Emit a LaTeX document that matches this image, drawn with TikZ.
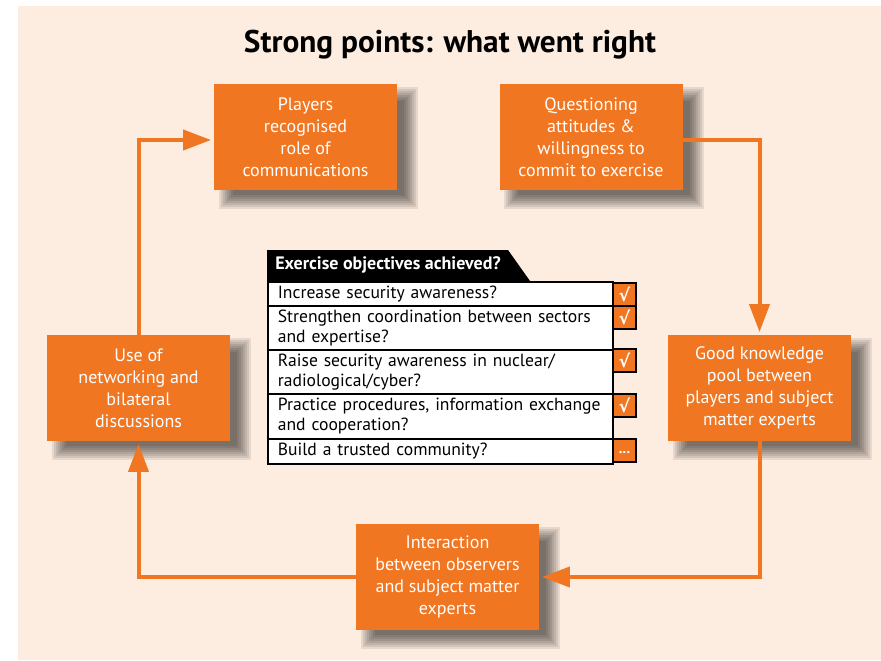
\documentclass[tikz,border=0pt]{standalone}
\usepackage{fontspec}
\setmainfont{PT Sans}
\newfontfamily\symfont{DejaVu Sans}
\usetikzlibrary{arrows.meta,backgrounds}
\definecolor{orng}{RGB}{240,118,34}
\definecolor{peach}{RGB}{253,236,224}
\begin{document}
\begin{tikzpicture}[x=0.75pt,y=-0.75pt,
  obox/.style={fill=orng,text=white,align=center,minimum width=137.25pt,minimum height=79.5pt,inner sep=0pt,
    font=\fontsize{13.5}{16.5}\selectfont},
  arr/.style={draw=orng,line width=3pt,-{Triangle[length=21pt,width=15pt]},shorten >=2pt},
  rowbox/.style={draw=black,fill=white,line width=1.5pt,anchor=north west,minimum width=258.75pt,
    text width=244pt,inner xsep=6.75pt,inner ysep=0pt,align=left,font=\fontsize{13.2}{15}\selectfont},
  chk/.style={draw=black,fill=orng,line width=1.5pt,minimum size=17.25pt,inner sep=0pt,text=white,
    anchor=north west,font=\symfont\bfseries\fontsize{13}{13}\selectfont},
  shadowlayer/.style={fill=black,opacity=0.085}]
\useasboundingbox (0,0) rectangle (881,660);

\node (title) at (450,45) {\fontsize{23.5}{23.5}\selectfont\bfseries Strong points: what went right};

\node[obox] (players) at (305.5,137) {Players\\recognised\\role of\\communications};
\node[obox] (quest) at (591,137) {Questioning\\attitudes \&\\willingness to\\commit to exercise};
\node[obox] (use) at (138.5,388) {Use of\\networking and\\bilateral\\discussions};
\node[obox] (good) at (759.5,388) {Good knowledge\\pool between\\players and subject\\matter experts};
\node[obox] (inter) at (447.5,577) {Interaction\\between observers\\and subject matter\\experts};

\begin{scope}[on background layer]
\fill[white] (0,0) rectangle (881,660);
\fill[peach] (18,6) rectangle (881,660);
\foreach \n in {players,quest,use,good,inter}{
  \foreach \e in {-6,-4,-2,0,2,4,6,8}{
    \fill[shadowlayer] ([shift={(13-\e,11+\e)}]\n.south west) rectangle ([shift={(13+\e,11-\e)}]\n.north east);
  }
}
\end{scope}

\draw[arr] (use.north) |- ([yshift=-2.25pt]players.west);
\draw[arr] ([yshift=-2.25pt]quest.east) -| (good.north);
\draw[arr] (good.south) |- (inter.east);
\draw[arr] (inter.west) -| (use.south);

% table
\fill[black] (267,250) -- (508,250) -- (530,281) -- (267,281) -- cycle;
\node[anchor=west,text=white,inner sep=0pt,font=\fontsize{13.5}{13.5}\selectfont\bfseries] (head) at (275,265) {Exercise objectives achieved?};

\node[rowbox,minimum height=18pt] (r1) at (267,281) {Increase security awareness?};
\node[rowbox,minimum height=33pt] (r2) at (267,305) {Strengthen coordination between sectors\\and expertise?};
\node[rowbox,minimum height=33pt] (r3) at (267,349) {Raise security awareness in nuclear/\\radiological/cyber?};
\node[rowbox,minimum height=33.75pt] (r4) at (267,393) {Practice procedures, information exchange\\and cooperation?};
\node[rowbox,minimum height=18.75pt] (r5) at (267,438) {Build a trusted community?};

\node[chk] (c1) at (612,282) {√};
\node[chk] (c2) at (612,305) {√};
\node[chk] (c3) at (612,348) {√};
\node[chk] (c4) at (612,393) {√};
\node[chk,font=\bfseries\fontsize{11}{11}\selectfont] (c5) at (612,438) {\raisebox{-4pt}{...}};
\end{tikzpicture}
\end{document}
